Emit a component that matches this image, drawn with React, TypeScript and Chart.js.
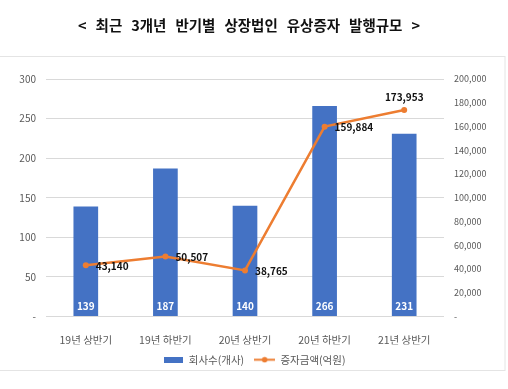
import React, { useEffect, useRef } from 'react';
import { Chart, registerables } from 'chart.js';

Chart.register(...registerables);

const FONT = '"Noto Sans CJK KR", "Noto Sans", sans-serif';

const titleText = '< 최근 3개년 반기별 상장법인 유상증자 발행규모 >';
const categories = ['19년 상반기', '19년 하반기', '20년 상반기', '20년 하반기', '21년 상반기'];
const companyCounts = [139, 187, 140, 266, 231];
const issueAmounts = [43140, 50507, 38765, 159884, 173953];
const seriesNames = ['회사수(개사)', '증자금액(억원)'];
const leftAxisMax = 300;
const leftAxisStep = 50;
const rightAxisMax = 200000;
const rightAxisStep = 20000;
const amountLabelSide = ['right', 'right', 'right', 'right', 'top'];

const BAR_COLOR = '#4472C4';
const LINE_COLOR = '#ED7D31';

const fmt = (v: number) => (v === 0 ? '-' : Number(v).toLocaleString('en-US'));

const framePlugin = {
  id: 'frame',
  beforeDraw(chart: any) {
    const ctx = chart.ctx;
    ctx.save();
    ctx.fillStyle = '#ffffff';
    ctx.fillRect(0, 0, chart.width, chart.height);
    ctx.strokeStyle = '#e4e4e4';
    ctx.lineWidth = 1;
    ctx.strokeRect(-1, 56.5, 506, 314);
    // title, words spread like the original
    ctx.font = `bold 14.5px ${FONT}`;
    ctx.fillStyle = '#111111';
    ctx.textBaseline = 'middle';
    ctx.textAlign = 'left';
    const words = titleText.split(' ');
    const widths = words.map((w) => ctx.measureText(w).width);
    const totalTarget = 342;
    const sum = widths.reduce((a, b) => a + b, 0);
    const gap = (totalTarget - sum) / (words.length - 1);
    let x = 249 - totalTarget / 2;
    words.forEach((w, i) => {
      ctx.fillText(w, x, 25);
      x += widths[i] + gap;
    });
    ctx.restore();
  },
};

const labelPlugin = {
  id: 'valueLabels',
  afterDatasetsDraw(chart: any) {
    const ctx = chart.ctx;
    ctx.save();
    ctx.textBaseline = 'middle';
    ctx.font = `bold 10px ${FONT}`;
    ctx.fillStyle = '#ffffff';
    ctx.textAlign = 'center';
    const barMeta = chart.getDatasetMeta(0);
    barMeta.data.forEach((el: any, i: number) => {
      ctx.fillText(String(companyCounts[i]), el.x, el.base - 10);
    });
    const lineMeta = chart.getDatasetMeta(1);
    ctx.fillStyle = '#111111';
    lineMeta.data.forEach((el: any, i: number) => {
      const text = fmt(issueAmounts[i]);
      if (amountLabelSide[i] === 'top') {
        ctx.textAlign = 'center';
        ctx.fillText(text, el.x, el.y - 13);
      } else {
        ctx.textAlign = 'left';
        ctx.fillText(text, el.x + 10, el.y + 1);
      }
    });
    ctx.restore();
  },
};

function makeBarIcon() {
  const c = document.createElement('canvas');
  c.width = 19;
  c.height = 6;
  const g = c.getContext('2d')!;
  g.fillStyle = BAR_COLOR;
  g.fillRect(0, 0, 19, 6);
  return c;
}

function makeLineIcon() {
  const c = document.createElement('canvas');
  c.width = 21;
  c.height = 7;
  const g = c.getContext('2d')!;
  g.strokeStyle = LINE_COLOR;
  g.lineWidth = 2;
  g.beginPath();
  g.moveTo(0, 3.5);
  g.lineTo(21, 3.5);
  g.stroke();
  g.fillStyle = LINE_COLOR;
  g.beginPath();
  g.arc(10.5, 3.5, 2.8, 0, Math.PI * 2);
  g.fill();
  return c;
}

export default function App() {
  const ref = useRef<HTMLCanvasElement | null>(null);

  useEffect(() => {
    if (!ref.current) return;
    const icons = [makeBarIcon(), makeLineIcon()];
    const chart = new Chart(ref.current, {
      type: 'bar',
      data: {
        labels: categories,
        datasets: [
          {
            type: 'bar',
            label: seriesNames[0],
            data: companyCounts,
            backgroundColor: BAR_COLOR,
            barPercentage: 0.31,
            categoryPercentage: 1,
            yAxisID: 'y',
            order: 1,
          } as any,
          {
            type: 'line',
            label: seriesNames[1],
            data: issueAmounts,
            borderColor: LINE_COLOR,
            backgroundColor: LINE_COLOR,
            borderWidth: 2.5,
            pointRadius: 3,
            pointBackgroundColor: LINE_COLOR,
            pointBorderWidth: 0,
            tension: 0,
            yAxisID: 'y1',
            order: 0,
          } as any,
        ],
      },
      options: {
        responsive: false,
        animation: false,
        devicePixelRatio: 1,
        layout: { padding: { top: 79, left: 0, right: 0, bottom: 14 } },
        plugins: {
          title: { display: false },
          legend: {
            position: 'bottom',
            labels: {
              usePointStyle: true,
              pointStyleWidth: 21,
              boxHeight: 7,
              color: '#595959',
              font: { family: FONT, size: 10.5 },
              padding: 10,
              sort: (a: any, b: any) => a.datasetIndex - b.datasetIndex,
              generateLabels: (c: any) => {
                const items = Chart.defaults.plugins.legend.labels.generateLabels(c);
                return items.map((it: any) => ({ ...it, pointStyle: icons[it.datasetIndex] }));
              },
            },
          },
          tooltip: { enabled: false },
        },
        scales: {
          x: {
            grid: { display: false },
            border: { display: false },
            ticks: { color: '#595959', font: { family: FONT, size: 10.5 }, padding: 9 },
            afterFit: (s: any) => {
              s.height = 28;
            },
          },
          y: {
            position: 'left',
            min: 0,
            max: leftAxisMax,
            ticks: {
              stepSize: leftAxisStep,
              color: '#595959',
              font: { family: FONT, size: 10 },
              padding: 10,
              callback: (v: any) => fmt(Number(v)),
            },
            grid: { color: '#d9d9d9', drawTicks: false },
            border: { display: false },
            afterFit: (s: any) => {
              s.width = 46;
            },
          },
          y1: {
            position: 'right',
            min: 0,
            max: rightAxisMax,
            ticks: {
              stepSize: rightAxisStep,
              color: '#595959',
              font: { family: FONT, size: 9 },
              padding: 10,
              callback: (v: any) => fmt(Number(v)),
            },
            grid: { display: false, drawTicks: false },
            border: { display: false },
            afterFit: (s: any) => {
              s.width = 64;
            },
          },
        },
      } as any,
      plugins: [framePlugin, labelPlugin],
    });
    return () => chart.destroy();
  }, []);

  return (
    <div style={{ position: 'absolute', left: 0, top: 0, width: 508, height: 389 }}>
      <canvas ref={ref} width={508} height={389} style={{ display: 'block' }} />
    </div>
  );
}
